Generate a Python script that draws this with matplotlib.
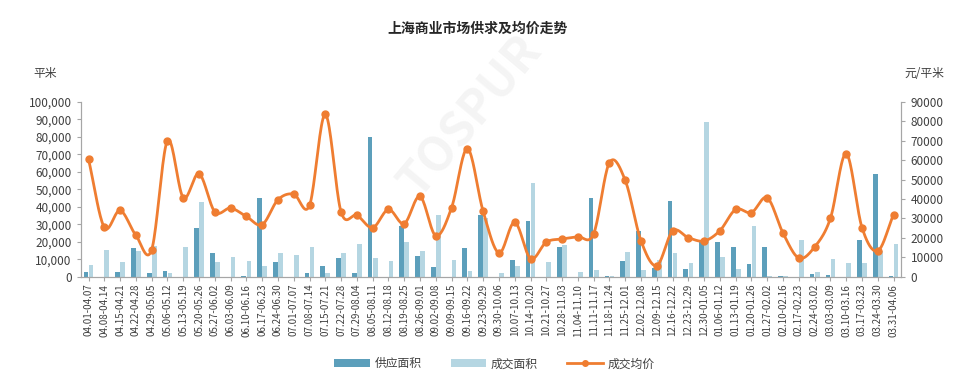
import numpy as np
import matplotlib
matplotlib.use("Agg")
from matplotlib import pyplot as plt

plt.rcParams['font.family'] = ['Noto Sans CJK SC', 'DejaVu Sans']

# weekly periods
weeks = ['04.01-04.07', '04.08-04.14', '04.15-04.21', '04.22-04.28', '04.29-05.05',
         '05.06-05.12', '05.13-05.19', '05.20-05.26', '05.27-06.02', '06.03-06.09',
         '06.10-06.16', '06.17-06.23', '06.24-06.30', '07.01-07.07', '07.08-07.14',
         '07.15-07.21', '07.22-07.28', '07.29-08.04', '08.05-08.11', '08.12-08.18',
         '08.19-08.25', '08.26-09.01', '09.02-09.08', '09.09-09.15', '09.16-09.22',
         '09.23-09.29', '09.30-10.06', '10.07-10.13', '10.14-10.20', '10.21-10.27',
         '10.28-11.03', '11.04-11.10', '11.11-11.17', '11.18-11.24', '11.25-12.01',
         '12.02-12.08', '12.09-12.15', '12.16-12.22', '12.23-12.29', '12.30-01.05',
         '01.06-01.12', '01.13-01.19', '01.20-01.26', '01.27-02.02', '02.10-02.16',
         '02.17-02.23', '02.24-03.02', '03.03-03.09', '03.10-03.16', '03.17-03.23',
         '03.24-03.30', '03.31-04.06']

# 供应面积 (sqm)
supply = [2900, 0, 2900, 16400, 2300, 3400, 0, 28000, 13300, 0,
          600, 44800, 8600, 0, 2100, 5900, 10700, 2100, 80000, 0,
          29100, 11800, 5300, 0, 16600, 35200, 0, 9700, 31600, 0,
          17100, 0, 44800, 300, 9000, 26300, 4800, 43200, 4200, 19800,
          19600, 17200, 7100, 16700, 300, 0, 1300, 1000, 0, 21200,
          58700, 300]

# 成交面积 (sqm)
deal = [6500, 15200, 8400, 14900, 17500, 1900, 17000, 42700, 8600, 11200,
        9000, 6100, 13700, 12400, 17000, 2100, 13500, 18500, 10500, 9000,
        19600, 14900, 35200, 9500, 3200, 33700, 1900, 6300, 53700, 8200,
        18100, 2900, 3600, 600, 14300, 3600, 9500, 13300, 8000, 88200,
        11100, 4400, 28900, 300, 300, 20900, 2900, 10100, 7800, 7800,
        14900, 18900]

# 成交均价 (yuan/sqm)
price = [60400, 25400, 34100, 21300, 13900, 70000, 40700, 53000, 33400, 35300,
         31000, 26800, 39600, 42500, 36700, 83500, 33300, 31600, 25200, 34600,
         27300, 41300, 21100, 35500, 65900, 33600, 12200, 28000, 9300, 17800,
         19400, 20600, 22100, 58700, 49600, 18500, 5700, 23500, 20100, 18400,
         23700, 34600, 33000, 40600, 22400, 9600, 15300, 30000, 63300, 25300,
         13300, 32000]

c_dark = '#5c9fbb'
c_light = '#b5d6e2'
c_line = '#ef7d31'
c_axis = '#a6a6a6'
c_text = '#404040'


def smooth(xs, ys, n=20):
    # catmull-rom curve through the points, like a smoothed line in a spreadsheet
    xs = np.asarray(xs, float)
    ys = np.asarray(ys, float)
    px = np.concatenate([[2 * xs[0] - xs[1]], xs, [2 * xs[-1] - xs[-2]]])
    py = np.concatenate([[2 * ys[0] - ys[1]], ys, [2 * ys[-1] - ys[-2]]])
    t = np.linspace(0, 1, n, endpoint=False)
    ox, oy = [], []
    for i in range(1, len(px) - 2):
        for p, o in ((px, ox), (py, oy)):
            p0, p1, p2, p3 = p[i - 1], p[i], p[i + 1], p[i + 2]
            o.extend(0.5 * (2 * p1 + (-p0 + p2) * t + (2 * p0 - 5 * p1 + 4 * p2 - p3) * t ** 2
                            + (-p0 + 3 * p1 - 3 * p2 + p3) * t ** 3))
    ox.append(xs[-1])
    oy.append(ys[-1])
    return np.array(ox), np.array(oy)


x = np.arange(len(weeks))
w = 0.3

fig = plt.figure(figsize=(9.6, 3.87), dpi=100)
ax = fig.add_axes([0.084, 0.285, 0.855, 0.452])
ax2 = ax.twinx()

ax.bar(x - 0.16, supply, w, color=c_dark, label='供应面积', zorder=2)
ax.bar(x + 0.16, deal, w, color=c_light, label='成交面积', zorder=2)

sx, sy = smooth(x, price)
ax2.plot(sx, sy, color=c_line, lw=2, zorder=3)
ax2.plot(x, price, 'o', color=c_line, ms=5, zorder=4)
ax2.plot([], [], '-o', color=c_line, lw=2, ms=4, label='成交均价')

ax.set_xlim(-0.5, len(weeks) - 0.5)
ax.set_ylim(0, 100000)
ax.set_yticks(np.arange(0, 100001, 10000))
ax.set_yticklabels([f'{v:,}' for v in range(0, 100001, 10000)])
ax2.set_ylim(0, 90000)
ax2.set_yticks(np.arange(0, 90001, 10000))

ax.set_xticks(x)
ax.set_xticklabels(weeks, rotation=90, fontsize=7, color=c_text)
ax.tick_params(axis='y', labelsize=8.5, colors=c_text, length=3, color=c_axis)
ax2.tick_params(axis='y', labelsize=8.5, colors=c_text, length=3, color=c_axis)
ax.tick_params(axis='x', length=3, color=c_axis, pad=2)

for a in (ax, ax2):
    a.spines['top'].set_visible(False)
    for s in ('left', 'right', 'bottom'):
        a.spines[s].set_color(c_axis)

ax.set_zorder(ax2.get_zorder() - 1)
ax2.patch.set_visible(False)

fig.text(0.497, 0.925, '上海商业市场供求及均价走势', ha='center', va='center',
         fontsize=10, fontweight='bold', color='#262626')
fig.text(0.047, 0.81, '平米', ha='center', va='center', fontsize=8.5, color=c_text)
fig.text(0.963, 0.81, '元/平米', ha='center', va='center', fontsize=8.5, color=c_text)

# faint watermark
fig.text(0.49, 0.7, 'TOSPUR', rotation=50, fontsize=34, fontweight='bold',
         color='#eeeeee', alpha=0.6, ha='center', va='center', zorder=0)

h1, l1 = ax.get_legend_handles_labels()
h2, l2 = ax2.get_legend_handles_labels()
fig.legend(h1 + h2, l1 + l2, loc='center', bbox_to_anchor=(0.515, 0.06), ncol=3,
           frameon=False, fontsize=8.5, handlelength=3, handleheight=0.6,
           columnspacing=2.5, handletextpad=0.4, labelcolor=c_text)

fig.savefig('out.png', dpi=100)
